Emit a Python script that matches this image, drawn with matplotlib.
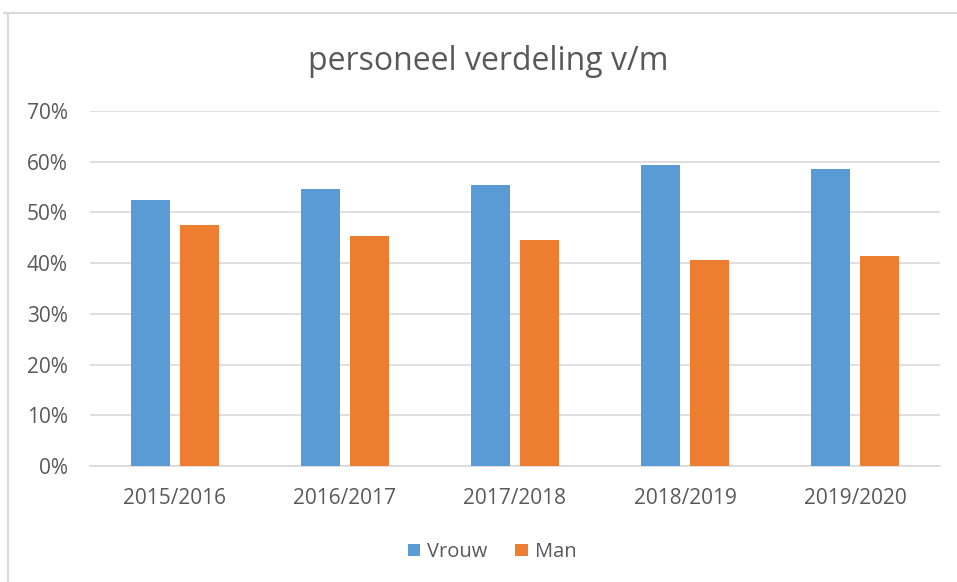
import matplotlib
matplotlib.use("Agg")
import matplotlib.pyplot as plt
from matplotlib.lines import Line2D
import numpy as np

categories = ["2015/2016", "2016/2017", "2017/2018", "2018/2019", "2019/2020"]
vrouw = [52.4, 54.7, 55.5, 59.3, 58.6]
man = [47.6, 45.3, 44.5, 40.7, 41.4]
yticks = [0, 10, 20, 30, 40, 50, 60, 70]

blue = "#5B9BD5"
orange = "#ED7D31"
txt = "#595959"

plt.rcParams['font.family'] = ['Open Sans', 'DejaVu Sans']

fig = plt.figure(figsize=(9.57, 5.82), dpi=100)
ax = fig.add_axes([90/957, 1 - 466/582, 850/957, (466-111)/582])

x = np.arange(len(categories))
w = 0.225
off = 0.144
ax.bar(x - off, vrouw, w, color=blue, label="Vrouw", zorder=3)
ax.bar(x + off, man, w, color=orange, label="Man", zorder=3)

ax.set_xlim(-0.5, len(categories) - 0.5)
ax.set_ylim(0, 70)
ax.set_yticks(yticks)
ax.set_yticklabels([f"{v}%" for v in yticks], color=txt, fontsize=15)
ax.set_xticks(x)
ax.set_xticklabels(categories, color=txt, fontsize=15)
ax.tick_params(length=0)
ax.tick_params(axis='y', pad=16)
ax.tick_params(axis='x', pad=16)
ax.grid(axis='y', color="#D9D9D9", linewidth=1.2, zorder=0)
for s in ["top", "right", "left"]:
    ax.spines[s].set_visible(False)
ax.spines["bottom"].set_color("#D9D9D9")
ax.spines["bottom"].set_linewidth(1.2)

fig.text(488/957, 1 - 62/582, "personeel verdeling v/m", ha="center", va="center",
         fontsize=23, color=txt)

leg = fig.legend(loc="center", bbox_to_anchor=(492/957, 1 - 552/582), ncol=2,
                 frameon=False, fontsize=14.5, handlelength=0.6, handleheight=0.6,
                 handletextpad=0.35, columnspacing=1.4)
for t in leg.get_texts():
    t.set_color(txt)

# chart border (top and left visible)
fig.add_artist(Line2D([4/957, 1], [1 - 13/582, 1 - 13/582], transform=fig.transFigure,
                      color="#D9D9D9", linewidth=1.5))
fig.add_artist(Line2D([8/957, 8/957], [0, 1 - 13/582], transform=fig.transFigure,
                      color="#D9D9D9", linewidth=1.5))

fig.savefig("out.png", dpi=100, facecolor="white")
